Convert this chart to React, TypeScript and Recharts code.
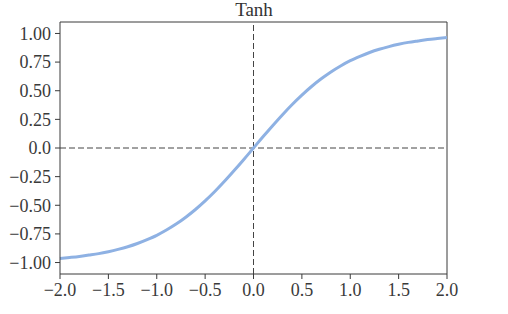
import { CartesianGrid, Line, LineChart, ReferenceLine, XAxis, YAxis } from "recharts";

const xs = [
  -2.0, -1.9, -1.8, -1.7, -1.6, -1.5, -1.4, -1.3, -1.2, -1.1, -1.0, -0.9, -0.8, -0.7, -0.6, -0.5, -0.4, -0.3, -0.2, -0.1,
  0.0, 0.1, 0.2, 0.3, 0.4, 0.5, 0.6, 0.7, 0.8, 0.9, 1.0, 1.1, 1.2, 1.3, 1.4, 1.5, 1.6, 1.7, 1.8, 1.9, 2.0,
];
const tanhValues = [
  -0.964, -0.956, -0.947, -0.935, -0.922, -0.905, -0.885, -0.862, -0.834, -0.8, -0.762, -0.716, -0.664, -0.604, -0.537,
  -0.462, -0.38, -0.291, -0.197, -0.1, 0.0, 0.1, 0.197, 0.291, 0.38, 0.462, 0.537, 0.604, 0.664, 0.716, 0.762, 0.8, 0.834,
  0.862, 0.885, 0.905, 0.922, 0.935, 0.947, 0.956, 0.964,
];
const xTicks = [-2, -1.5, -1, -0.5, 0, 0.5, 1, 1.5, 2];
const yTicks = [-1, -0.75, -0.5, -0.25, 0, 0.25, 0.5, 0.75, 1];

const data = xs.map((x, i) => ({ x, y: tanhValues[i] }));

const minus = (s: string) => s.replace("-", "\u2212");
const fmtX = (v: number) => minus(v.toFixed(1));
const fmtY = (v: number) => (v === 0 ? "0.0" : minus(v.toFixed(2)));

const axisColor = "#3a3a3a";
const tickStyle = { fill: "#3a3a3a", fontSize: 18 };

export default function App() {
  return (
    <div style={{ position: "absolute", left: 0, top: 0, width: 508, height: 314, background: "#fff", fontFamily: "'Liberation Serif', serif" }}>
      <div style={{ position: "absolute", top: 0, width: 508, textAlign: "center", fontSize: 19, lineHeight: "20px", color: "#333" }}>
        Tanh
      </div>
      <LineChart width={508} height={314} data={data} margin={{ top: 22, right: 61, left: 0, bottom: 0 }}>
        <CartesianGrid stroke="none" />
        <XAxis
          dataKey="x"
          type="number"
          domain={[-2, 2]}
          ticks={xTicks}
          tickFormatter={fmtX}
          height={40}
          stroke={axisColor}
          tick={tickStyle}
          tickSize={5}
          tickMargin={4}
        />
        <YAxis
          type="number"
          domain={[-1.1, 1.1]}
          ticks={yTicks}
          tickFormatter={fmtY}
          width={60}
          stroke={axisColor}
          tick={tickStyle}
          tickSize={5}
          tickMargin={4}
        />
        <ReferenceLine y={1.1} stroke={axisColor} />
        <ReferenceLine x={2} stroke={axisColor} />
        <ReferenceLine y={0} stroke="#444" strokeDasharray="6 3" />
        <ReferenceLine x={0} stroke="#444" strokeDasharray="6 3" />
        <Line
          dataKey="y"
          type="monotone"
          stroke="#8eb1e3"
          strokeWidth={3}
          dot={false}
          isAnimationActive={false}
        />
      </LineChart>
    </div>
  );
}
